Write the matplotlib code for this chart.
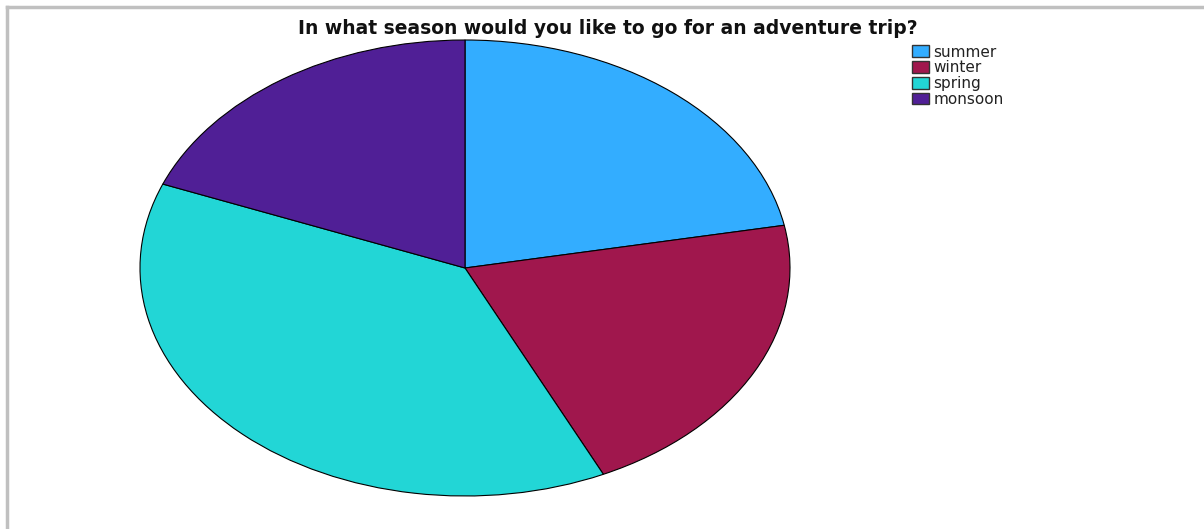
import matplotlib.pyplot as plt
from matplotlib.patches import Patch

plt.rcParams['font.family'] = ['DejaVu Sans']

seasons = ["summer", "winter", "spring", "monsoon"]
counts = [22, 21, 38, 19]
colours = ["#33adff", "#a0174d", "#22d6d6", "#501f96"]

fig = plt.figure(figsize=(12.04, 5.29), dpi=100)

# grey frame line at top and left
fig.add_artist(plt.Line2D([7 / 1204, 1], [1 - 7 / 529, 1 - 7 / 529], color="#c0c0c0", lw=2.5))
fig.add_artist(plt.Line2D([7 / 1204, 7 / 1204], [0, 1 - 7 / 529], color="#c0c0c0", lw=2.5))

ax = fig.add_axes([140 / 1204, 33 / 529, 650 / 1204, 456 / 529])
ax.pie(counts, colors=colours, startangle=90, counterclock=False,
       wedgeprops=dict(edgecolor="black", linewidth=0.8))
ax.set_aspect("auto")
ax.set_xlim(-1, 1)
ax.set_ylim(-1, 1)
ax.axis("off")

fig.text(608 / 1204, 1 - 28 / 529, "In what season would you like to go for an adventure trip?",
         ha="center", va="center", fontsize=13.5, fontweight="bold", color="#111111")

handles = [Patch(facecolor=c, edgecolor="#333333", label=s) for s, c in zip(seasons, colours)]
fig.legend(handles=handles, loc="upper left", bbox_to_anchor=(910 / 1204, 1 - 43 / 529),
           frameon=False, fontsize=11, handlelength=1.15, handleheight=0.8,
           handletextpad=0.3, labelspacing=0.05, borderaxespad=0, borderpad=0.1,
           labelcolor="#222222")

plt.savefig("out.png")
